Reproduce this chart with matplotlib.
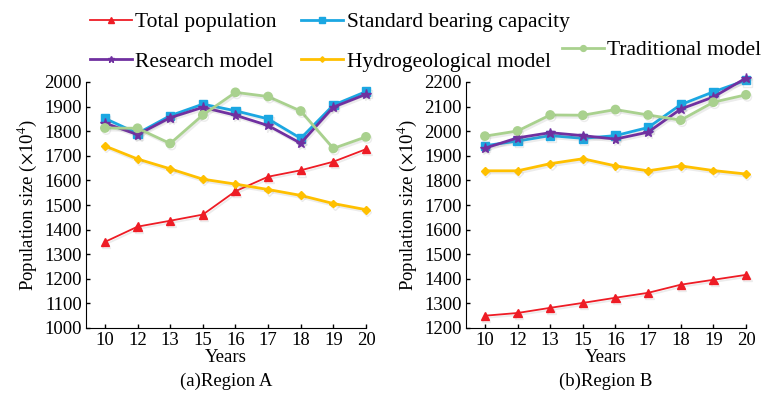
import matplotlib
matplotlib.use("Agg")
import matplotlib.pyplot as plt
import matplotlib.patheffects as pe
from matplotlib.lines import Line2D

plt.rcParams['font.family'] = ['Liberation Serif', 'DejaVu Serif']
plt.rcParams['mathtext.fontset'] = 'stix'

years = ["10", "12", "13", "15", "16", "17", "18", "19", "20"]

# Region A
a_total = [1350, 1412, 1436, 1461, 1556, 1615, 1641, 1676, 1727]
a_standard = [1852, 1791, 1863, 1910, 1883, 1850, 1771, 1906, 1961]
a_research = [1833, 1786, 1855, 1897, 1865, 1823, 1751, 1898, 1950]
a_hydro = [1740, 1687, 1647, 1605, 1585, 1563, 1539, 1506, 1481]
a_traditional = [1813, 1812, 1750, 1866, 1958, 1941, 1882, 1730, 1777]

# Region B
b_total = [1250, 1261, 1282, 1302, 1323, 1343, 1376, 1396, 1416]
b_standard = [1941, 1960, 1982, 1971, 1982, 2015, 2108, 2160, 2207]
b_research = [1931, 1973, 1994, 1982, 1968, 1996, 2090, 2139, 2216]
b_hydro = [1839, 1839, 1868, 1888, 1859, 1839, 1859, 1840, 1826]
b_traditional = [1980, 2001, 2066, 2065, 2088, 2066, 2045, 2118, 2148]

labels = ["Total population", "Standard bearing capacity", "Research model",
          "Hydrogeological model", "Traditional model"]
colors = ["#ee1c25", "#1ba7e2", "#7030a0", "#ffc000", "#a9d18e"]
markers = ["^", "s", "*", "D", "o"]
msizes = [6, 6, 7, 4, 6]
lwidths = [1.3, 2.0, 2.0, 2.0, 2.0]

fig = plt.figure(figsize=(7.61, 3.94), dpi=100)
ax1 = fig.add_axes([86/761, 1-328/394, 280/761, 246/394])
ax2 = fig.add_axes([466/761, 1-328/394, 280/761, 246/394])

shadow = [pe.SimpleLineShadow(offset=(1, -1.5), shadow_color="gray", alpha=0.15),
          pe.Normal()]

panels = [
    (ax1, [a_total, a_standard, a_research, a_hydro, a_traditional], (1000, 2000), "(a)Region A"),
    (ax2, [b_total, b_standard, b_research, b_hydro, b_traditional], (1200, 2200), "(b)Region B"),
]

x = list(range(len(years)))
for ax, series, ylim, caption in panels:
    for vals, c, m, ms, lw in zip(series, colors, markers, msizes, lwidths):
        ax.plot(x, vals, color=c, marker=m, markersize=ms, linewidth=lw,
                clip_on=False, path_effects=shadow, zorder=3)
    ax.set_xlim(-0.58, 8)
    ax.set_ylim(*ylim)
    ax.set_yticks(range(ylim[0], ylim[1] + 1, 100))
    ax.set_xticks(x)
    ax.set_xticklabels(years)
    ax.spines["top"].set_visible(False)
    ax.spines["right"].set_visible(False)
    ax.tick_params(direction="in", length=3, labelsize=13.5, pad=3, width=1)
    ax.set_xlabel("Years", fontsize=13.5, labelpad=0)
    ax.set_ylabel(r"Population size ($\times$10$^4$)", fontsize=13.5, labelpad=4)
    pos = ax.get_position()
    fig.text((pos.x0 + pos.x1) / 2, 1 - 381/394, caption, ha="center", va="center",
             fontsize=13.5)

handles = [Line2D([], [], color=c, marker=m, markersize=ms * 0.7, linewidth=lw)
           for c, m, ms, lw in zip(colors, markers, msizes, lwidths)]

fig.legend([handles[0], handles[2], handles[1], handles[3]],
           [labels[0], labels[2], labels[1], labels[3]],
           ncol=2, loc="upper left", bbox_to_anchor=(90/761, 1 - 12/394),
           frameon=False, fontsize=15.5, handlelength=1.95, handletextpad=0.15,
           columnspacing=1.15, labelspacing=0.9, borderpad=0, borderaxespad=0)
fig.legend([handles[4]], [labels[4]], loc="upper left",
           bbox_to_anchor=(562/761, 1 - 40/394), frameon=False, fontsize=15.5,
           handlelength=1.95, handletextpad=0.15, borderpad=0, borderaxespad=0)

fig.savefig("out.png", dpi=100)
